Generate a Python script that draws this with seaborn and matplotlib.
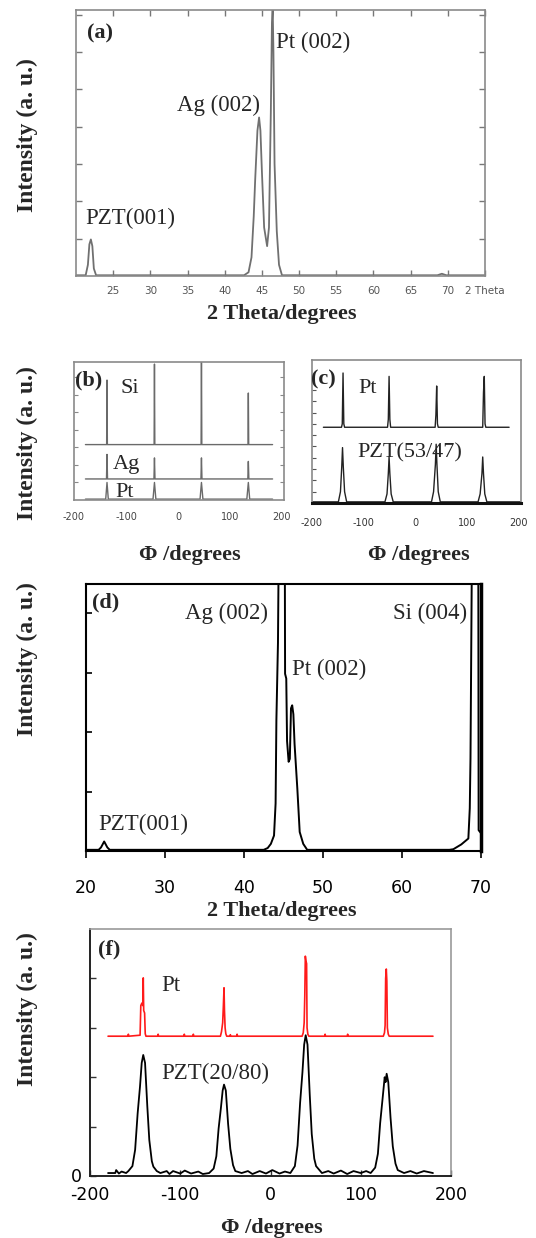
import matplotlib
matplotlib.use("Agg")
import matplotlib.pyplot as plt
import seaborn as sns

# ---- values ----
# (a) 2theta scan
a_theta = [20.0, 21.3, 21.6, 21.8, 22.0, 22.2, 22.4, 22.7, 30.0, 40.0,
           42.6, 43.2, 43.6, 43.9, 44.1, 44.4, 44.62, 44.8, 45.0, 45.3,
           45.7, 45.95, 46.2, 46.35, 46.45, 46.55, 46.7, 47.0, 47.3, 47.7,
           55.0, 65.0, 68.6, 69.2, 69.8, 75.0]
a_int = [0.02, 0.02, 0.3, 0.85, 0.98, 0.8, 0.2, 0.02, 0.02, 0.02,
         0.02, 0.1, 0.5, 1.6, 2.6, 3.9, 4.25, 3.9, 2.8, 1.3,
         0.8, 1.3, 4.4, 6.8, 7.2, 6.0, 3.0, 1.2, 0.3, 0.02,
         0.02, 0.02, 0.02, 0.06, 0.02, 0.02]
a_ticks = [25, 30, 35, 40, 45, 50, 55, 60, 65, 70, 75]
a_ticklabels = ['25', '30', '35', '40', '45', '50', '55', '60', '65', '70', '2 Theta']

# (b) phi scans, Pt / Ag / Si
b_phi_pt = [-178, -139, -136.5, -134, -48, -45.2, -42.5, 42.5, 45.2, 48, 132.5, 135.4, 138, 182]
b_int_pt = [0.05, 0.05, 1.0, 0.05, 0.05, 1.0, 0.05, 0.05, 1.0, 0.05, 0.05, 1.0, 0.05, 0.05]
b_phi_ag = [-178, -137.5, -136.5, -135.5, -46.2, -45.2, -44.2, 44.2, 45.2, 46.2, 134.4, 135.4, 136.4, 182]
b_int_ag = [1.2, 1.2, 2.6, 1.2, 1.2, 2.4, 1.2, 1.2, 2.4, 1.2, 1.2, 2.2, 1.2, 1.2]
b_phi_si = [-178, -137.2, -136.5, -135.8, -45.9, -45.2, -44.5, 44.5, 45.2, 45.9, 134.7, 135.4, 136.1, 182]
b_int_si = [3.16, 3.16, 6.84, 3.16, 3.16, 7.75, 3.16, 3.16, 8.5, 3.16, 3.16, 6.1, 3.16, 3.16]

# (c) phi scans, Pt / PZT(53/47)
c_phi_pt = [-178, -143, -141.5, -140, -138.5, -137, -54, -52.5, -51, -49.5, -48,
            38, 39.5, 41, 42.5, 44, 130, 131.5, 133, 134.5, 136, 181]
c_int_pt = [6.7, 6.7, 7.0, 11.5, 7.0, 6.7, 6.7, 7.4, 11.2, 7.4, 6.7,
            6.7, 7.8, 10.35, 7.0, 6.7, 6.7, 9.8, 11.2, 7.0, 6.7, 6.7]
c_phi_pzt = [-200, -149, -145, -142.5, -141, -139.5, -137, -133,
             -59, -55, -52.5, -51, -49.5, -47, -43,
             31, 35, 38.5, 40, 41.5, 44, 48,
             121, 125, 128.5, 130, 131.5, 134, 138, 204]
c_int_pzt = [0.1, 0.1, 1.0, 3.2, 4.9, 3.2, 1.0, 0.1,
             0.1, 0.8, 2.6, 4.07, 2.6, 0.8, 0.1,
             0.1, 1.0, 3.4, 5.2, 3.4, 1.0, 0.1,
             0.1, 0.8, 2.6, 4.07, 2.6, 0.8, 0.1, 0.1]
bc_ticks = [-200, -100, 0, 100, 200]

# (d) 2theta scan
d_theta = [20.0, 21.6, 21.9, 22.3, 22.7, 23.0, 30.0, 40.0, 42.5, 43.0,
           43.4, 43.8, 44.0, 44.1, 44.3, 44.45, 45.15, 45.2, 45.35, 45.45,
           45.65, 45.8, 45.95, 46.1, 46.25, 46.4, 46.75, 47.05, 47.5, 48.0,
           55.0, 60.0, 66.0, 66.5, 67.5, 68.4, 68.58, 68.67, 68.9, 69.65,
           69.7, 70.0]
d_int = [0.02, 0.02, 0.06, 0.16, 0.06, 0.02, 0.02, 0.02, 0.02, 0.05,
         0.12, 0.26, 0.8, 2.2, 3.5, 6.0, 6.0, 2.98, 2.9, 1.85,
         1.5, 1.55, 2.4, 2.45, 2.3, 1.8, 1.05, 0.32, 0.12, 0.02,
         0.02, 0.02, 0.02, 0.03, 0.11, 0.21, 0.72, 1.56, 6.0, 6.0,
         0.35, 0.3]
d_ticks = [20, 30, 40, 50, 60, 70]

# (f) phi scans, Pt (red) / PZT(20/80)
f_phi_pt = [-180, -158, -157.5, -157, -144.5, -143.7, -142.5, -141.5, -141.0, -140.5,
            -139.5, -138.8, -138, -125, -124.5, -124, -96, -95.5, -95, -86,
            -85.5, -85, -55.5, -54.3, -53.0, -52.2, -51.5, -51.0, -50.3, -49.5,
            -48.5, -45, -44.5, -44, -37.5, -37, -36.5, 35, 36.3, 37.3,
            38.0, 38.6, 39.3, 40.0, 40.5, 41.4, 42.5, 60, 60.5, 61,
            85, 85.5, 86, 125, 126.3, 127.0, 127.6, 128.3, 128.9, 129.5,
            130.5, 131.5, 180]
f_int_pt = [2.83, 2.83, 2.87, 2.83, 2.85, 3.45, 3.5, 3.45, 4.01, 3.35,
            3.3, 2.88, 2.83, 2.83, 2.87, 2.83, 2.83, 2.87, 2.83, 2.83,
            2.87, 2.83, 2.83, 2.92, 3.1, 3.45, 3.81, 3.35, 3.0, 2.88,
            2.83, 2.83, 2.86, 2.83, 2.83, 2.87, 2.83, 2.83, 2.9, 3.1,
            3.65, 4.45, 4.35, 4.3, 3.0, 2.87, 2.83, 2.83, 2.87, 2.83,
            2.83, 2.87, 2.83, 2.83, 2.9, 3.05, 4.0, 4.19, 3.95, 3.0,
            2.87, 2.83, 2.83]
f_phi_pzt = [-180, -172, -171, -168, -165, -160, -157.5, -153, -150, -147.2,
             -144.6, -142.7, -141, -139, -136.5, -134.3, -131.5, -129.8, -126, -122,
             -115, -112, -108, -100, -95, -88, -80, -75, -68, -63,
             -60, -57.5, -55, -53, -51.5, -49.5, -47, -44.5, -41.5, -39,
             -32, -25, -20, -12, -5, 2, 10, 16, 22, 27,
             30, 32.8, 35.4, 37.3, 39, 41, 43.5, 45.7, 48.5, 50.5,
             57, 64, 70, 78, 85, 92, 100, 106, 111, 116,
             119, 121.5, 124, 126.5, 127.5, 128.7, 130.5, 133, 135.5, 138.5,
             141, 148, 155, 162, 170, 180]
f_int_pzt = [0.06, 0.06, 0.12, 0.05, 0.09, 0.06, 0.1, 0.2, 0.53, 1.27,
             1.81, 2.29, 2.45, 2.29, 1.41, 0.73, 0.3, 0.19, 0.1, 0.06,
             0.1, 0.04, 0.1, 0.05, 0.11, 0.05, 0.09, 0.04, 0.06, 0.15,
             0.4, 0.96, 1.37, 1.73, 1.85, 1.73, 1.06, 0.55, 0.22, 0.1,
             0.06, 0.1, 0.04, 0.1, 0.05, 0.12, 0.05, 0.09, 0.06, 0.2,
             0.62, 1.48, 2.1, 2.66, 2.85, 2.66, 1.64, 0.85, 0.35, 0.2,
             0.06, 0.1, 0.05, 0.11, 0.04, 0.1, 0.06, 0.1, 0.06, 0.17,
             0.45, 1.07, 1.53, 2.0, 1.9, 2.07, 1.9, 1.18, 0.6, 0.25,
             0.12, 0.06, 0.1, 0.05, 0.1, 0.06]
f_ticks = [-200, -100, 0, 100, 200]

W, H = 536, 1238

sns.set_theme(style="white")
plt.rcParams['font.family'] = ['Liberation Serif', 'DejaVu Serif']
SANS = 'DejaVu Sans'

fig = plt.figure(figsize=(W / 100, H / 100), dpi=100)


def box(left, top, right, bottom):
    # axes placed in pixel coords of the reference
    return fig.add_axes([left / W, 1 - bottom / H, (right - left) / W, (bottom - top) / H])


def trace(ax, x, y, color, lw):
    sns.lineplot(x=x, y=y, ax=ax, color=color, lw=lw, sort=False, estimator=None)
    ax.set_xlabel('')
    ax.set_ylabel('')


def frame(ax, color, lw):
    for sp in ax.spines.values():
        sp.set_visible(True)
        sp.set_color(color)
        sp.set_linewidth(lw)


def figtext(x, y, s, **kw):
    fig.text(x / W, 1 - y / H, s, ha='center', va='center', **kw)


# ---- (a) ----
ax = box(76, 10, 485, 276)
trace(ax, a_theta, a_int, '#707070', 1.3)
ax.set_xlim(20, 75)
ax.set_ylim(0, 7.13)
ax.set_xticks(a_ticks, a_ticklabels, family=SANS, fontsize=7.5, color='#555555')
ax.set_yticks(range(1, 8), [])
ax.tick_params(direction='in', length=4, width=1, color='#777777', top=True, right=True,
               bottom=True, left=True, pad=7)
frame(ax, '#8a8a8a', 1.2)
ax.text(21.5, 6.49, '(a)', fontsize=16, fontweight='bold', va='center')
ax.text(33.6, 4.56, 'Ag (002)', fontsize=16.5, va='center')
ax.text(46.9, 6.25, 'Pt (002)', fontsize=16.5, va='center')
ax.text(21.2, 1.53, 'PZT(001)', fontsize=16.5, va='center')

# ---- (b) ----
ax = box(74, 362, 284, 500)
trace(ax, b_phi_pt, b_int_pt, '#6a6a6a', 1.0)
trace(ax, b_phi_ag, b_int_ag, '#6a6a6a', 1.0)
trace(ax, b_phi_si, b_int_si, '#6a6a6a', 1.0)
ax.set_xlim(-200, 204)
ax.set_ylim(0, 7.87)
ax.set_xticks(bc_ticks, [str(t) for t in bc_ticks], family=SANS, fontsize=7, color='#444444')
ax.set_yticks(range(1, 8), [])
ax.tick_params(direction='in', length=3, width=0.8, color='#888888', left=True, right=True,
               bottom=False, pad=9)
frame(ax, '#8a8a8a', 1.2)
ax.text(-198, 6.84, '(b)', fontsize=16, fontweight='bold', va='center')
ax.text(-111.5, 6.38, 'Si', fontsize=16, va='center')
ax.text(-125, 2.0, 'Ag', fontsize=16, va='center')
ax.text(-121, 0.45, 'Pt', fontsize=16, va='center', clip_on=True)

# ---- (c) ----
ax = box(312, 360, 521, 503)
trace(ax, c_phi_pt, c_int_pt, '#222222', 1.0)
trace(ax, c_phi_pzt, c_int_pzt, '#222222', 1.0)
ax.set_xlim(-200, 204)
ax.set_ylim(0, 12.65)
ax.set_xticks(bc_ticks, [str(t) for t in bc_ticks], family=SANS, fontsize=7, color='#333333')
ax.set_yticks(range(1, 11), [])
ax.tick_params(direction='in', length=3, width=0.8, color='#555555', left=True,
               bottom=False, pad=11)
frame(ax, '#8a8a8a', 1.2)
ax.spines['bottom'].set_color('#111111')
ax.spines['bottom'].set_linewidth(2.2)
ax.text(-201, 10.97, '(c)', fontsize=16, fontweight='bold', va='center')
ax.text(-111, 10.1, 'Pt', fontsize=16, va='center')
ax.text(-111.6, 4.45, 'PZT(53/47)', fontsize=16, va='center')

figtext(282, 314, '2 Theta/degrees', fontsize=16, fontweight='bold')
figtext(190, 555, 'Φ /degrees', fontsize=16, fontweight='bold')
figtext(419, 555, 'Φ /degrees', fontsize=16, fontweight='bold')

# ---- (d) ----
ax = box(86, 584, 481, 851)
trace(ax, d_theta, d_int, 'black', 1.4)
ax.set_xlim(20, 70)
ax.set_ylim(0, 4.49)
ax.set_xticks(d_ticks, [str(t) for t in d_ticks], family=SANS, fontsize=12.5, color='black')
ax.set_yticks(range(1, 5), [])
ax.tick_params(axis='x', direction='out', length=5, width=1.2, color='black', bottom=True, pad=15)
ax.tick_params(axis='y', direction='in', length=4, width=1.2, color='black', left=True)
frame(ax, 'black', 1.5)
ax.spines['right'].set_linewidth(2.5)
ax.text(20.8, 4.18, '(d)', fontsize=16, fontweight='bold', va='center')
ax.text(32.5, 4.0, 'Ag (002)', fontsize=16.5, va='center')
ax.text(46.1, 3.06, 'Pt (002)', fontsize=16.5, va='center')
ax.text(58.9, 4.0, 'Si (004)', fontsize=16.5, va='center')
ax.text(21.6, 0.44, 'PZT(001)', fontsize=16.5, va='center')

figtext(282, 911, '2 Theta/degrees', fontsize=16, fontweight='bold')

# ---- (f) ----
ax = box(90, 929, 451, 1176)
trace(ax, f_phi_pzt, f_int_pzt, 'black', 1.3)
trace(ax, f_phi_pt, f_int_pt, '#ff1a1a', 1.2)
ax.set_xlim(-200, 200)
ax.set_ylim(0, 5)
ax.set_xticks(f_ticks, [str(t) for t in f_ticks], family=SANS, fontsize=12.5, color='black')
ax.set_yticks(range(0, 5), [])
ax.tick_params(axis='x', direction='in', length=4, width=1, color='#333333', bottom=True, pad=7)
ax.tick_params(axis='y', direction='in', length=4, width=1, color='#333333', left=True)
# the lone "0" on the intensity axis sits a little below the corner
ax.annotate('0', xy=(0, 0), xycoords='axes fraction', xytext=(-8, -6),
            textcoords='offset pixels', ha='right', va='baseline',
            family=SANS, fontsize=12.5, color='black')
frame(ax, '#999999', 1.2)
ax.spines['left'].set_color('#222222')
ax.spines['bottom'].set_color('#222222')
ax.spines['left'].set_linewidth(1.4)
ax.spines['bottom'].set_linewidth(1.4)
ax.text(-190.8, 4.58, '(f)', fontsize=16, fontweight='bold', va='center')
ax.text(-120.6, 3.85, 'Pt', fontsize=16.5, va='center')
ax.text(-120.6, 2.07, 'PZT(20/80)', fontsize=16.5, va='center')

figtext(272, 1228, 'Φ /degrees', fontsize=16, fontweight='bold')

# y labels, one per row
for yc in [135, 443, 659, 1009]:
    figtext(27.4, yc, 'Intensity (a. u.)', fontsize=17, fontweight='bold', rotation=90)

fig.savefig('out.png', dpi=100)
